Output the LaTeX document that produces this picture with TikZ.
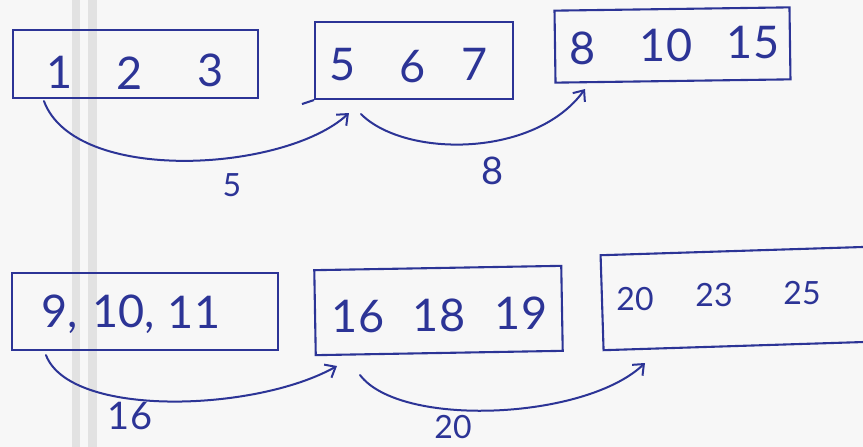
\documentclass[tikz,border=0pt]{standalone}
\usepackage{fontspec}
\setmainfont{Lato}
\usetikzlibrary{arrows.meta,calc}
\definecolor{ink}{RGB}{44,52,150}
\definecolor{paper}{RGB}{247,247,247}
\definecolor{rule}{RGB}{226,226,226}
\begin{document}
\begin{tikzpicture}[x=1pt,y=-1pt,
  box/.style={draw=ink,line width=2.1pt,inner sep=0pt},
  num/.style={text=ink,font=\fontsize{45}{47}\selectfont,inner sep=0pt},
  small/.style={text=ink,font=\fontsize{32}{34}\selectfont,inner sep=0pt},
  big/.style={text=ink,font=\fontsize{38}{40}\selectfont,inner sep=0pt},
  jump/.style={draw=ink,line width=2pt,line cap=round,
    -{Straight Barb[length=9pt,width=15pt,line width=2pt]}}]
  % sheet and its margin rules
  \useasboundingbox (0,0) rectangle (863,447);
  \fill[paper] (0,0) rectangle (863,447);
  \clip (0,0) rectangle (863,447);
  \fill[rule] (72,0) rectangle (80,447);
  \fill[rule] (88,0) rectangle (97,447);

  % upper row
  \node[box,minimum width=245,minimum height=68] (A) at (135.5,64) {};
  \node[box,minimum width=198,minimum height=77] (B) at (414,60.5) {};
  \draw[ink,line width=2.1pt] (B.south west) -- ++(-12,4);
  \node[box,minimum width=235,minimum height=72,rotate=0.8] (C) at (672.5,45) {};
  \node[num] (a1) at (60,72) {1};
  \node[num] (a2) at (130,73) {2};
  \node[num] (a3) at (211,70) {3};
  \node[num] (b1) at (343,65) {5};
  \node[num] (b2) at (413,67) {6};
  \node[num] (b3) at (475,64) {7};
  \node[num] (c1) at (583,48) {8};
  \node[num] (c2) at (666,45) {10};
  \node[num] (c3) at (753,43) {15};

  % lower row
  \node[box,minimum width=266,minimum height=77] (D) at (145,311.5) {};
  \node[box,minimum width=247,minimum height=85,rotate=1] (E) at (438.5,310.5) {};
  \node[box,minimum width=300,minimum height=95,rotate=1.8] (F) at (752,298) {};
  \node[num] (d1) at (60,314) {9,};
  \node[num] (d2) at (124,314) {10,};
  \node[num] (d3) at (194,312) {11};
  \node[num] (e1) at (358,317) {16};
  \node[num] (e2) at (439,315) {18};
  \node[num] (e3) at (521,313) {19};
  \node[small] (f1) at (635,299) {20};
  \node[small] (f2) at (714,295) {23};
  \node[small] (f3) at (802,293) {25};

  % jump arrows and their lengths
  \coordinate (s1) at ($(A.south west)+(32,2)$);
  \coordinate (t1) at ($(B.south west)+(35,13)$);
  \coordinate (s2) at ($(B.south west)+(47,14)$);
  \coordinate (t2) at (585,89);
  \coordinate (s3) at ($(D.south west)+(35,4)$);
  \coordinate (t3) at (337,366);
  \coordinate (s4) at (360,375);
  \coordinate (t4) at (645,363);
  \draw[jump] (s1) .. controls (75,185) and (285,172) .. (t1);
  \draw[jump] (s2) .. controls (405,158) and (535,158) .. (t2);
  \draw[jump] (s3) .. controls (70,418) and (255,412) .. (t3);
  \draw[jump] (s4) .. controls (400,428) and (585,420) .. (t4);
  \node[small] (l1) at (232,185) {5};
  \node[big] (l2) at (493,171) {8};
  \node[big] (l3) at (130,416) {16};
  \node[small] (l4) at (453,427) {20};
\end{tikzpicture}
\end{document}
